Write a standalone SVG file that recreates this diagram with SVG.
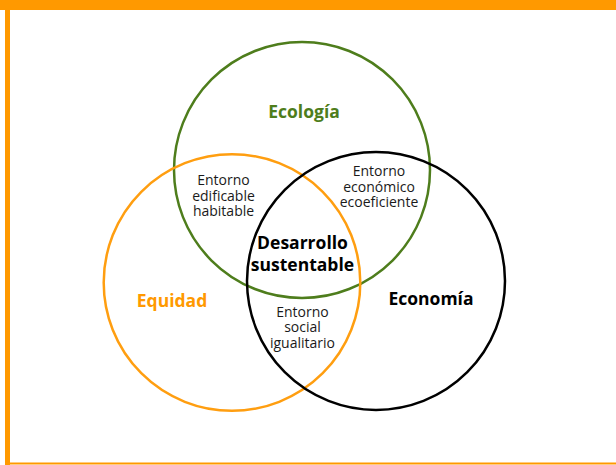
<svg xmlns="http://www.w3.org/2000/svg" width="616" height="465" viewBox="0 0 616 465">
<style>
.c{fill:none;stroke-width:2.5}
.t{font-family:"Open Sans","Noto Sans",sans-serif;text-anchor:middle}
.s{font-size:14px;fill:#1a1a1a}
.b{font-size:17.5px;font-weight:bold}
</style>
<rect x="0" y="0" width="616" height="465" fill="#ffffff"/>
<g id="frame">
<rect x="0" y="0" width="616" height="10" fill="#ff9900"/>
<rect x="5" y="0" width="5" height="465" fill="#ff9900"/>
<rect x="5" y="462.5" width="611" height="2" fill="#ff9900"/>
</g>
<g id="ecologia">
<circle class="c" cx="302" cy="170" r="128" stroke="#4e7d1c"/>
<text class="t b" x="304" y="117.5" fill="#4e7d1c">Ecología</text>
</g>
<g id="equidad">
<circle class="c" cx="232" cy="282.5" r="128.3" stroke="#ff9e10"/>
<text class="t b" x="172" y="306.5" fill="#ff9900">Equidad</text>
</g>
<g id="economia">
<circle class="c" cx="376" cy="281" r="129" stroke="#000000"/>
<text class="t b" x="431" y="305" fill="#000000">Economía</text>
</g>
<g id="edificable">
<text class="t s" x="223.5" y="185">Entorno</text>
<text class="t s" x="223.5" y="200.5">edificable</text>
<text class="t s" x="223.5" y="216">habitable</text>
</g>
<g id="economico">
<text class="t s" x="379" y="176">Entorno</text>
<text class="t s" x="379" y="191.5">económico</text>
<text class="t s" x="379" y="207">ecoeficiente</text>
</g>
<g id="social">
<text class="t s" x="302.5" y="316.5">Entorno</text>
<text class="t s" x="302.5" y="332">social</text>
<text class="t s" x="302.5" y="347.5">igualitario</text>
</g>
<g id="desarrollo">
<text class="t b" x="302.5" y="249" fill="#000000">Desarrollo</text>
<text class="t b" x="302.5" y="270.5" fill="#000000">sustentable</text>
</g>
<g id="connectors"></g>
</svg>
